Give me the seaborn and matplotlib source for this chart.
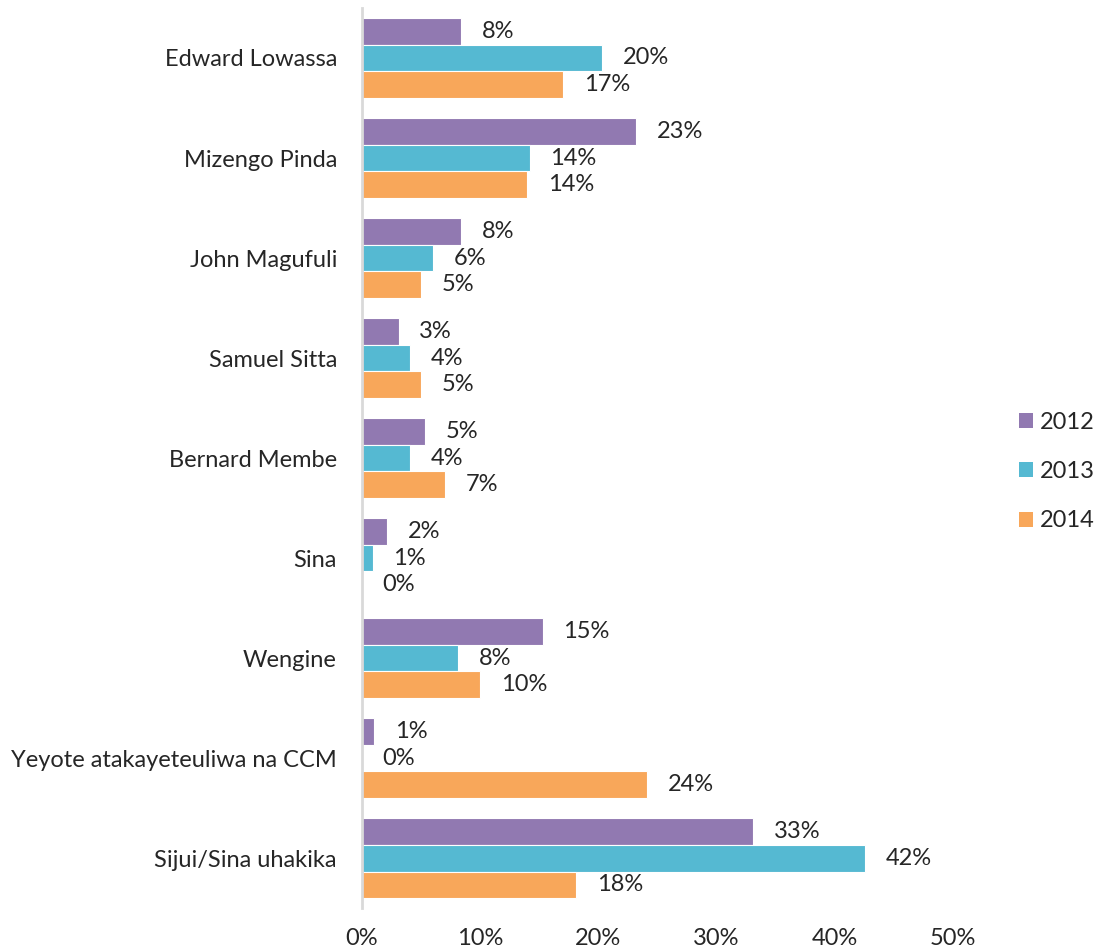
import numpy as np
import pandas as pd
import matplotlib.pyplot as plt
import seaborn as sns
from matplotlib.patches import Patch

# data (percent)
names = ["Edward Lowassa", "Mizengo Pinda", "John Magufuli", "Samuel Sitta",
         "Bernard Membe", "Sina", "Wengine", "Yeyote atakayeteuliwa na CCM",
         "Sijui/Sina uhakika"]
years = ["2012", "2013", "2014"]
v2012 = [8.4, 23.2, 8.4, 3.1, 5.3, 2.1, 15.3, 1.0, 33.1]
v2013 = [20.3, 14.2, 6.0, 4.1, 4.1, 0.9, 8.1, 0.0, 42.6]
v2014 = [17.0, 14.0, 5.0, 5.0, 7.0, 0.0, 10.0, 24.1, 18.1]
labels2012 = ["8%", "23%", "8%", "3%", "5%", "2%", "15%", "1%", "33%"]
labels2013 = ["20%", "14%", "6%", "4%", "4%", "1%", "8%", "0%", "42%"]
labels2014 = ["17%", "14%", "5%", "5%", "7%", "0%", "10%", "24%", "18%"]
xticks = [0, 10, 20, 30, 40, 50]
colors = ["#9179b1", "#55b9d2", "#f8a75a"]

df = pd.DataFrame({
    "name": names * 3,
    "year": [y for y in years for _ in names],
    "value": v2012 + v2013 + v2014,
})

sns.set_style("white")
plt.rcParams["font.family"] = ["Lato", "DejaVu Sans"]

fig = plt.figure(figsize=(11, 9.49), dpi=100)
ax = fig.add_axes([0.329, 0.043, 0.537, 0.9486])

sns.barplot(data=df, y="name", x="value", hue="year", palette=colors,
            saturation=1, orient="h", width=0.8, edgecolor="white",
            linewidth=0.8, legend=False, ax=ax)

all_labels = [labels2012, labels2013, labels2014]
for cont, labs in zip(ax.containers, all_labels):
    ax.bar_label(cont, labels=labs, padding=15, fontsize=17, color="#262626")

ax.set_xlim(0, 50)
ax.set_xticks(xticks)
ax.set_xticklabels([f"{t}%" for t in xticks], fontsize=17, color="#262626")
ax.tick_params(axis="y", labelsize=17, labelcolor="#262626", length=0, pad=18)
ax.tick_params(axis="x", length=0, pad=14)
ax.set_xlabel("")
ax.set_ylabel("")
for s in ["top", "right", "bottom"]:
    ax.spines[s].set_visible(False)
ax.spines["left"].set_color("#d9d9d9")
ax.spines["left"].set_linewidth(2)

handles = [Patch(facecolor=c, edgecolor="none", label=y) for c, y in zip(colors, years)]
fig.legend(handles=handles, loc="center left", bbox_to_anchor=(0.926, 0.503),
           frameon=False, fontsize=17, handlelength=0.6, handleheight=0.6,
           handletextpad=0.3, labelspacing=1.2, borderpad=0, borderaxespad=0,
           labelcolor="#262626")

plt.savefig("out.png", dpi=100)
